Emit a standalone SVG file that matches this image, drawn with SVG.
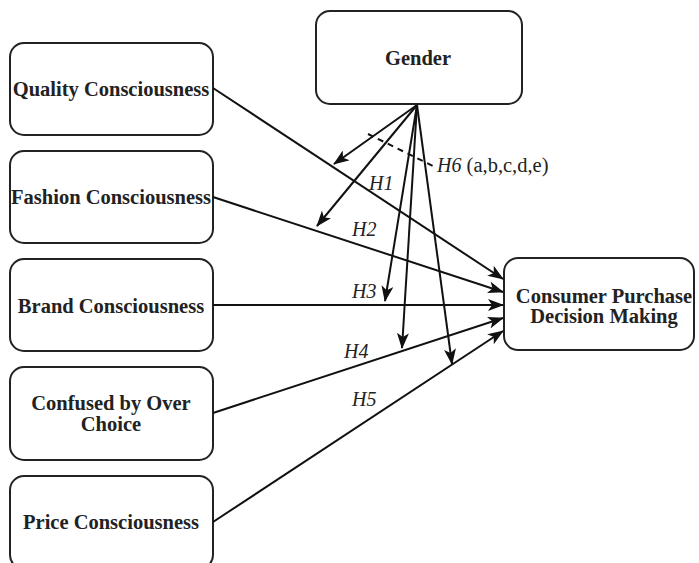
<svg xmlns="http://www.w3.org/2000/svg" width="699" height="563" viewBox="0 0 699 563">
<style>
.box{fill:#fff;stroke:#222;stroke-width:2}
.lbl{font-family:"Liberation Serif","Times New Roman",serif;font-weight:bold;font-size:20.5px;fill:#222;text-anchor:middle}
.h{font-family:"Liberation Serif","Times New Roman",serif;font-style:italic;font-size:20px;fill:#222}
.r{font-family:"Liberation Serif","Times New Roman",serif;font-size:20.5px;fill:#222}
.c{stroke:#111;stroke-width:2;fill:none}
.d{stroke:#111;stroke-width:2;fill:none;stroke-dasharray:6,5}
</style>
<defs>
<marker id="ah" markerUnits="userSpaceOnUse" markerWidth="16" markerHeight="12" refX="15" refY="6" orient="auto">
<path d="M0,0 L16,6 L0,12 L4,6 z" fill="#111"/>
</marker>
</defs>
<rect width="699" height="563" fill="#fff"/>
<g id="gender"><rect class="box" x="316" y="11" width="206" height="93" rx="14"/><text class="lbl" x="418" y="65">Gender</text></g>
<g id="quality"><rect class="box" x="10" y="43" width="203" height="92" rx="14"/><text class="lbl" x="111" y="96">Quality Consciousness</text></g>
<g id="fashion"><rect class="box" x="10" y="151" width="203" height="92" rx="14"/><text class="lbl" x="111" y="204">Fashion Consciousness</text></g>
<g id="brand"><rect class="box" x="10" y="259" width="203" height="92" rx="14"/><text class="lbl" x="111" y="313">Brand Consciousness</text></g>
<g id="confused"><rect class="box" x="10" y="367" width="203" height="93" rx="14"/><text class="lbl" x="111" y="410">Confused by Over</text><text class="lbl" x="111" y="431">Choice</text></g>
<g id="price"><rect class="box" x="10" y="476" width="203" height="93" rx="14"/><text class="lbl" x="111" y="529">Price Consciousness</text></g>
<g id="consumer"><rect class="box" x="504" y="258" width="190" height="92" rx="14"/><text class="lbl" x="604" y="303">Consumer Purchase</text><text class="lbl" x="604" y="323">Decision Making</text></g>
<g id="connectors">
<line class="c" x1="213" y1="88" x2="503" y2="279" marker-end="url(#ah)"/>
<line class="c" x1="213" y1="197" x2="503" y2="292" marker-end="url(#ah)"/>
<line class="c" x1="213" y1="305" x2="503" y2="305" marker-end="url(#ah)"/>
<line class="c" x1="213" y1="413" x2="503" y2="318" marker-end="url(#ah)"/>
<line class="c" x1="213" y1="522" x2="503" y2="331" marker-end="url(#ah)"/>
<line class="c" x1="417" y1="105" x2="334" y2="164" marker-end="url(#ah)"/>
<line class="c" x1="417" y1="105" x2="317" y2="226" marker-end="url(#ah)"/>
<line class="c" x1="417" y1="105" x2="385" y2="301" marker-end="url(#ah)"/>
<line class="c" x1="417" y1="105" x2="402" y2="348" marker-end="url(#ah)"/>
<line class="c" x1="417" y1="105" x2="452" y2="364" marker-end="url(#ah)"/>
<line class="d" x1="368" y1="134" x2="435" y2="167"/>
</g>
<g id="labels">
<text x="437" y="172"><tspan class="h">H6</tspan><tspan class="r"> (a,b,c,d,e)</tspan></text>
<text class="h" x="369" y="190">H1</text>
<text class="h" x="352" y="236">H2</text>
<text class="h" x="352" y="298">H3</text>
<text class="h" x="344" y="358">H4</text>
<text class="h" x="352" y="406">H5</text>
</g>
</svg>
